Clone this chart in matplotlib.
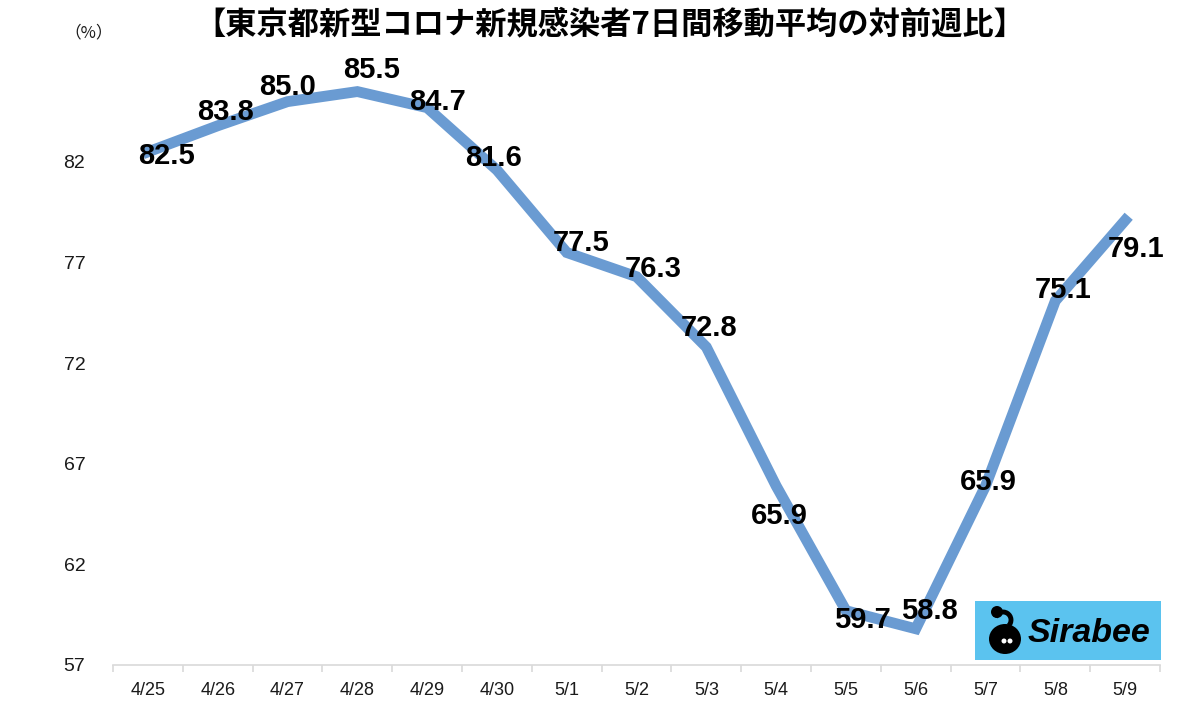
import matplotlib.pyplot as plt
import matplotlib.patches as patches
import numpy as np

plt.rcParams['font.family'] = ['Liberation Sans', 'Noto Sans CJK JP', 'DejaVu Sans']

# data
dates = ['4/25', '4/26', '4/27', '4/28', '4/29', '4/30', '5/1', '5/2',
         '5/3', '5/4', '5/5', '5/6', '5/7', '5/8', '5/9']
ratio = [82.5, 83.8, 85.0, 85.5, 84.7, 81.6, 77.5, 76.3,
         72.8, 65.9, 59.7, 58.8, 65.9, 75.1, 79.1]
# label offsets in pixels (dx, dy) from each point
offsets = [(19, -4), (8, 14), (0, 15), (14, 22), (10, 6), (-3, 12), (14, 10), (17, 8),
           (3, 19), (3, -30), (16, -9), (14, 18), (3, 4), (8, 11), (11, -29)]

fig = plt.figure(figsize=(12, 7.04), dpi=100)
ax = fig.add_axes([0.0942, 0.0554, 0.8725, 0.8574])

x = np.arange(len(dates))
ax.plot(x, ratio, color='#6a9bd2', linewidth=7.8, solid_joinstyle='miter', zorder=2)

for xi, v, (dx, dy) in zip(x, ratio, offsets):
    ax.annotate(f'{v:.1f}', (xi, v), xytext=(dx, dy), textcoords='offset pixels',
                ha='center', va='center', fontsize=21, fontweight='bold',
                color='black', zorder=3)

ax.set_xlim(-0.5, len(dates) - 0.5)
ax.set_ylim(57, 87)
ax.set_yticks([57, 62, 67, 72, 77, 82])
ax.tick_params(axis='y', length=0, labelsize=14, pad=20, colors='#1a1a1a')

ax.set_xticks(np.arange(-0.5, len(dates), 1.0))
ax.set_xticklabels([])
ax.set_xticks(x, minor=True)
ax.set_xticklabels(dates, minor=True)
ax.tick_params(axis='x', which='major', length=5, color='#d9d9d9', width=1.2)
ax.tick_params(axis='x', which='minor', length=0, labelsize=13, pad=12, colors='#1a1a1a')

for s in ['top', 'right', 'left']:
    ax.spines[s].set_visible(False)
ax.spines['bottom'].set_color('#d9d9d9')
ax.spines['bottom'].set_linewidth(1.2)

fig.text(0.508, 0.966, '【東京都新型コロナ新規感染者7日間移動平均の対前週比】',
         family=['Noto Sans CJK JP', 'DejaVu Sans'], fontweight='bold',
         fontsize=22.5, ha='center', va='center', color='black')
fig.text(0.074, 0.953, '（%）', family=['Noto Sans CJK JP', 'DejaVu Sans'],
         fontsize=12, ha='center', va='center', color='#1a1a1a')

# Sirabee badge
W, H = 1200, 704
fig.patches.append(patches.Rectangle((975 / W, 1 - 660 / H), 186 / W, 59 / H,
                                     transform=fig.transFigure, facecolor='#5bc3ef',
                                     edgecolor='none'))
fig.patches.append(patches.Ellipse((1005 / W, 1 - 639 / H), 32 / W, 30 / H,
                                   transform=fig.transFigure, facecolor='black'))
fig.patches.append(patches.Ellipse((997 / W, 1 - 612 / H), 12 / W, 12 / H,
                                   transform=fig.transFigure, facecolor='black'))
fig.patches.append(patches.Arc((1003 / W, 1 - 620 / H), 16 / W, 16 / H, theta1=-60, theta2=150,
                               transform=fig.transFigure, color='black', linewidth=3.5))
fig.patches.append(patches.Ellipse((1004 / W, 1 - 641 / H), 5 / W, 5 / H,
                                   transform=fig.transFigure, facecolor='white'))
fig.patches.append(patches.Ellipse((1010 / W, 1 - 641 / H), 5 / W, 5 / H,
                                   transform=fig.transFigure, facecolor='white'))
fig.text(1089 / W, 1 - 633 / H, 'Sirabee', fontsize=24.5, fontweight='bold',
         style='italic', ha='center', va='center', color='black')

fig.savefig('out.png', dpi=100, facecolor='white')
